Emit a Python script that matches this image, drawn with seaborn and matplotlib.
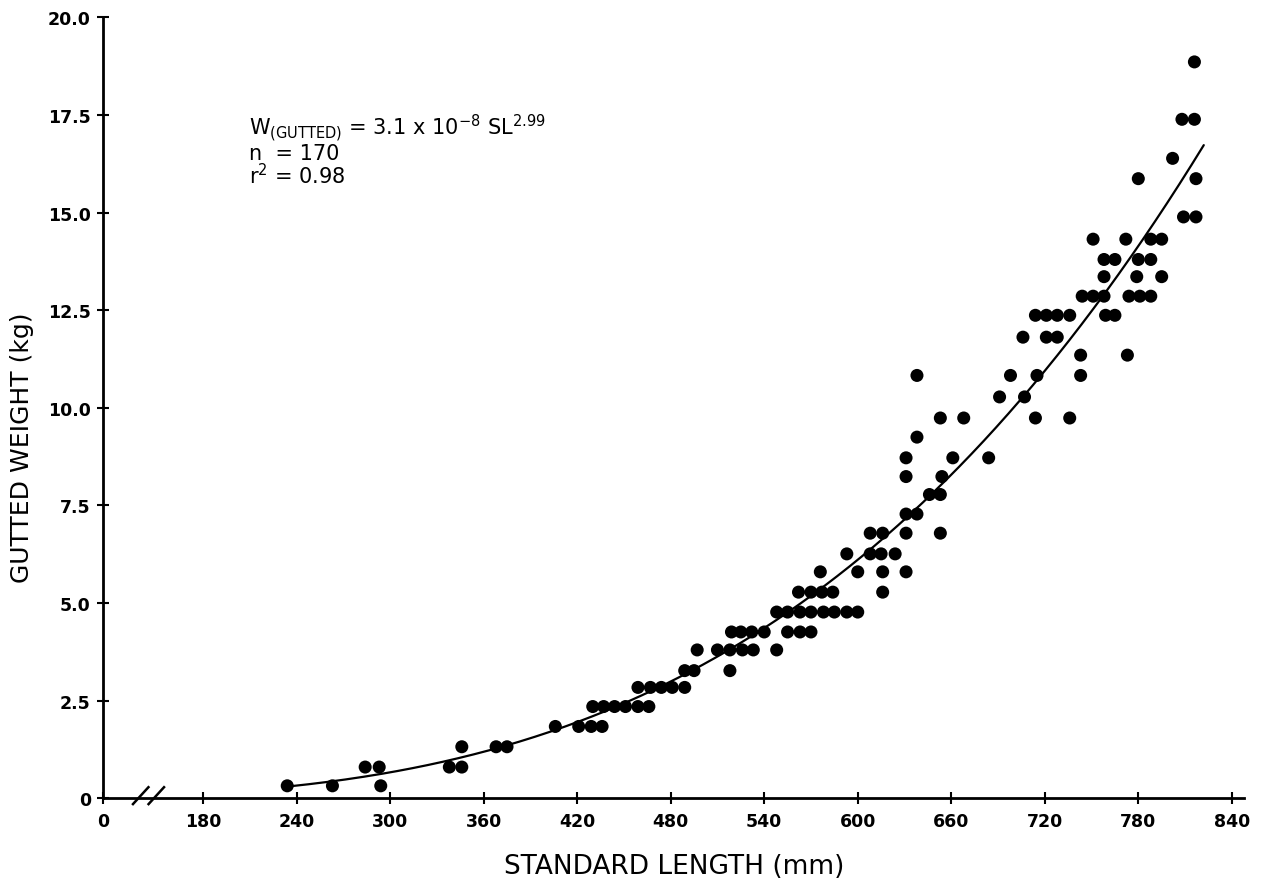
import numpy as np
import pandas as pd
import matplotlib
matplotlib.use("Agg")
import matplotlib.pyplot as plt
import matplotlib.transforms as mtransforms
import seaborn as sns

# ---------------- data ----------------
length_mm = [
    234, 263, 294,
    284, 293, 338, 346,
    346, 368, 375,
    406, 421, 429, 436,
    430, 437, 444, 451, 459, 466,
    459, 467, 474, 481, 489,
    489, 495, 518,
    497, 510, 518, 526, 533, 548,
    519, 525, 532, 540, 555, 563, 570,
    548, 555, 563, 570, 578, 585, 593, 600,
    562, 570, 577, 584, 616,
    576, 600, 616, 631,
    593, 608, 615, 624,
    608, 616, 631, 653,
    631, 638,
    646, 653,
    631, 654,
    631, 661, 684,
    638,
    653, 668, 714, 736,
    691, 707,
    638, 698, 715, 743,
    743, 773,
    706, 721, 728,
    714, 721, 728, 736, 759, 765,
    744, 751, 758, 774, 781, 788,
    758, 779, 795,
    758, 765, 780, 788,
    751, 772, 788, 795,
    809, 817,
    780, 817,
    802,
    808, 816,
    816,
]
gutted_weight_kg = (
    [0.32] * 3 + [0.80] * 4 + [1.32] * 3 + [1.84] * 4 + [2.35] * 6 +
    [2.84] * 5 + [3.27] * 3 + [3.80] * 6 + [4.26] * 7 + [4.77] * 8 +
    [5.28] * 5 + [5.80] * 4 + [6.26] * 4 + [6.79] * 4 + [7.28] * 2 +
    [7.78] * 2 + [8.24] * 2 + [8.72] * 3 + [9.25] * 1 + [9.74] * 4 +
    [10.28] * 2 + [10.83] * 4 + [11.35] * 2 + [11.81] * 3 + [12.37] * 6 +
    [12.86] * 6 + [13.36] * 3 + [13.80] * 4 + [14.32] * 4 + [14.89] * 2 +
    [15.87] * 2 + [16.39] * 1 + [17.39] * 2 + [18.86] * 1
)

x_tick_values = [180, 240, 300, 360, 420, 480, 540, 600, 660, 720, 780, 840]
x_tick_labels = ["0", "180", "240", "300", "360", "420", "480", "540",
                 "600", "660", "720", "780", "840"]
y_tick_values = [0, 2.5, 5, 7.5, 10, 12.5, 15, 17.5, 20]
y_tick_labels = ["0", "2.5", "5.0", "7.5", "10.0", "12.5", "15.0", "17.5", "20.0"]

fit_range_mm = (236, 822)

annotation_lines = [
    r"W$_{\mathrm{(GUTTED)}}$ = 3.1 x 10$^{-8}$ SL$^{2.99}$",
    r"n  = 170",
    r"r$^{2}$ = 0.98",
]

# ---------------- layout constants ----------------
X_MIN, X_MAX = 116, 848        # axis start (labelled "0") after a scale break
Y_MIN, Y_MAX = 0, 20
BREAK_X = 145

df = pd.DataFrame({"length": length_mm, "weight": gutted_weight_kg})

# least-squares power-law fit W = a * SL^b (linear space)
xs = df["length"].to_numpy(float)
ys = df["weight"].to_numpy(float)
best = None
for b in np.linspace(2.5, 4.5, 801):
    xb = xs ** b
    a = np.sum(ys * xb) / np.sum(xb * xb)
    sse = np.sum((ys - a * xb) ** 2)
    if best is None or sse < best[0]:
        best = (sse, a, b)
_, fit_a, fit_b = best
curve_x = np.linspace(fit_range_mm[0], fit_range_mm[1], 300)
curve_df = pd.DataFrame({"length": curve_x, "weight": fit_a * curve_x ** fit_b})

# ---------------- drawing ----------------
sns.set_theme(style="ticks")
plt.rcParams["font.family"] = ["DejaVu Sans"]

fig = plt.figure(figsize=(12.66, 8.79), dpi=100)
ax = fig.add_axes([103.3 / 1266, (879 - 799.3) / 879, 1141 / 1266, (799.3 - 18.4) / 879])

sns.lineplot(data=curve_df, x="length", y="weight", ax=ax, color="black",
             linewidth=1.6, zorder=2)
sns.scatterplot(data=df, x="length", y="weight", ax=ax, color="black",
                s=88, linewidth=0, edgecolor="none", zorder=3, clip_on=False)

ax.set_xlim(X_MIN, X_MAX)
ax.set_ylim(Y_MIN, Y_MAX)
ax.set_xticks([X_MIN] + x_tick_values)
ax.set_xticklabels(x_tick_labels)
ax.set_yticks(y_tick_values)
ax.set_yticklabels(y_tick_labels)

for side in ("top", "right"):
    ax.spines[side].set_visible(False)
for side in ("left", "bottom"):
    ax.spines[side].set_linewidth(2.0)
    ax.spines[side].set_color("black")

ax.tick_params(axis="both", direction="inout", length=8, width=1.5, color="black")
ax.tick_params(axis="x", pad=6)
ax.tick_params(axis="y", pad=5)
for lab in ax.get_xticklabels() + ax.get_yticklabels():
    lab.set_fontsize(12.5)
    lab.set_fontweight("bold")
    lab.set_color("black")

ax.set_xlabel("STANDARD LENGTH (mm)", fontsize=19, color="black")
ax.set_ylabel("GUTTED WEIGHT (kg)", fontsize=18, color="black")
ax.xaxis.set_label_coords(0.5, -0.070)
ax.yaxis.set_label_coords(-0.061, 0.45)

# scale-break marks on the x axis
trans = mtransforms.blended_transform_factory(ax.transData, ax.transAxes)
for dx in (-5, 5):
    ax.plot([BREAK_X + dx - 5.5, BREAK_X + dx + 5.5], [-0.0086, 0.0154],
            transform=trans, color="black", linewidth=1.8, clip_on=False,
            solid_capstyle="butt")

# equation block
for i, line in enumerate(annotation_lines):
    ax.text(0.128, 0.8500 - i * 0.0312, line, transform=ax.transAxes,
            fontsize=15, color="black", ha="left", va="baseline")

ax.set_facecolor("white")
fig.patch.set_facecolor("white")
fig.savefig("out.png", dpi=100, facecolor="white")
